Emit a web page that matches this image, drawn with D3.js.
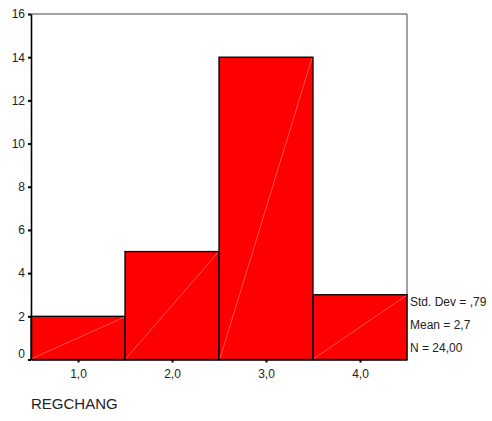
<!DOCTYPE html>
<html><head><meta charset="utf-8">
<script src="https://cdn.jsdelivr.net/npm/d3@7"></script>
<style>body{margin:0;background:#fff;} text{font-family:Arial,"Liberation Sans",sans-serif;}</style>
</head><body>
<svg id="c" width="492" height="421"></svg>
<script>
const categories = [1, 2, 3, 4];
const counts = [2, 5, 14, 3];
const xTickLabels = ["1,0", "2,0", "3,0", "4,0"];
const yTicks = [0, 2, 4, 6, 8, 10, 12, 14, 16];
const statsLines = ["Std. Dev = ,79", "Mean = 2,7", "N = 24,00"];
const xTitle = "REGCHANG";

(function () {
const svg = d3.select("#c");
const pL = 31, pR = 407, pT = 14, pB = 359.5;
const x = d3.scaleLinear().domain([0.5, 4.5]).range([pL, pR]);
const y = d3.scaleLinear().domain([0, 16]).range([pB, pT]);

// frame top/right
svg.append("path").attr("d", `M${pL},${pT}H${pR}V${pB}`)
  .attr("fill", "none").attr("stroke", "#444").attr("stroke-width", 1);

// bars
const g = svg.append("g");
categories.forEach((c, i) => {
  const x0 = x(c - 0.5), x1 = x(c + 0.5), y1 = y(counts[i]);
  g.append("rect").attr("x", x0).attr("y", y1).attr("width", x1 - x0).attr("height", y(0) - y1)
    .attr("fill", "#ff0000").attr("stroke", "#000").attr("stroke-width", 1.3);
  g.append("line").attr("x1", x0 + 1).attr("y1", y(0) - 1).attr("x2", x1 - 1).attr("y2", y1 + 1)
    .attr("stroke", "#ff8a8a").attr("stroke-width", 0.6);
});

// y axis
const ya = svg.append("g").attr("transform", `translate(${pL},0)`)
  .call(d3.axisLeft(y).tickValues(yTicks).tickSize(0).tickPadding(6).tickFormat(d3.format("d")));
ya.select(".domain").attr("stroke", "#000").attr("stroke-width", 1.6);
ya.selectAll("text").attr("font-size", 12).attr("fill", "#222").attr("font-family", "Arial, Liberation Sans, sans-serif")
  .attr("dy", d => d === 0 ? "-0.2em" : "0.32em");
ya.selectAll(".tick").append("rect").attr("x", -3).attr("y", -1).attr("width", 3).attr("height", 2).attr("fill", "#000");

// x axis
const xa = svg.append("g").attr("transform", `translate(0,${pB})`)
  .call(d3.axisBottom(x).tickValues(categories).tickSize(0).tickPadding(10).tickFormat((d, i) => xTickLabels[i]));
xa.select(".domain").attr("stroke", "#000").attr("stroke-width", 1.6);
xa.selectAll("text").attr("font-size", 12).attr("fill", "#222").attr("font-family", "Arial, Liberation Sans, sans-serif");
xa.selectAll(".tick").append("rect").attr("x", -1).attr("y", 0).attr("width", 2).attr("height", 3).attr("fill", "#000");

// stats
svg.append("g").selectAll("text").data(statsLines).join("text")
  .attr("x", 410).attr("y", (d, i) => 305.5 + i * 23)
  .attr("font-size", 12).attr("fill", "#222").text(d => d);

// title
svg.append("text").attr("x", 31).attr("y", 409).attr("font-size", 15).attr("fill", "#222").text(xTitle);
})();
</script>
</body></html>
